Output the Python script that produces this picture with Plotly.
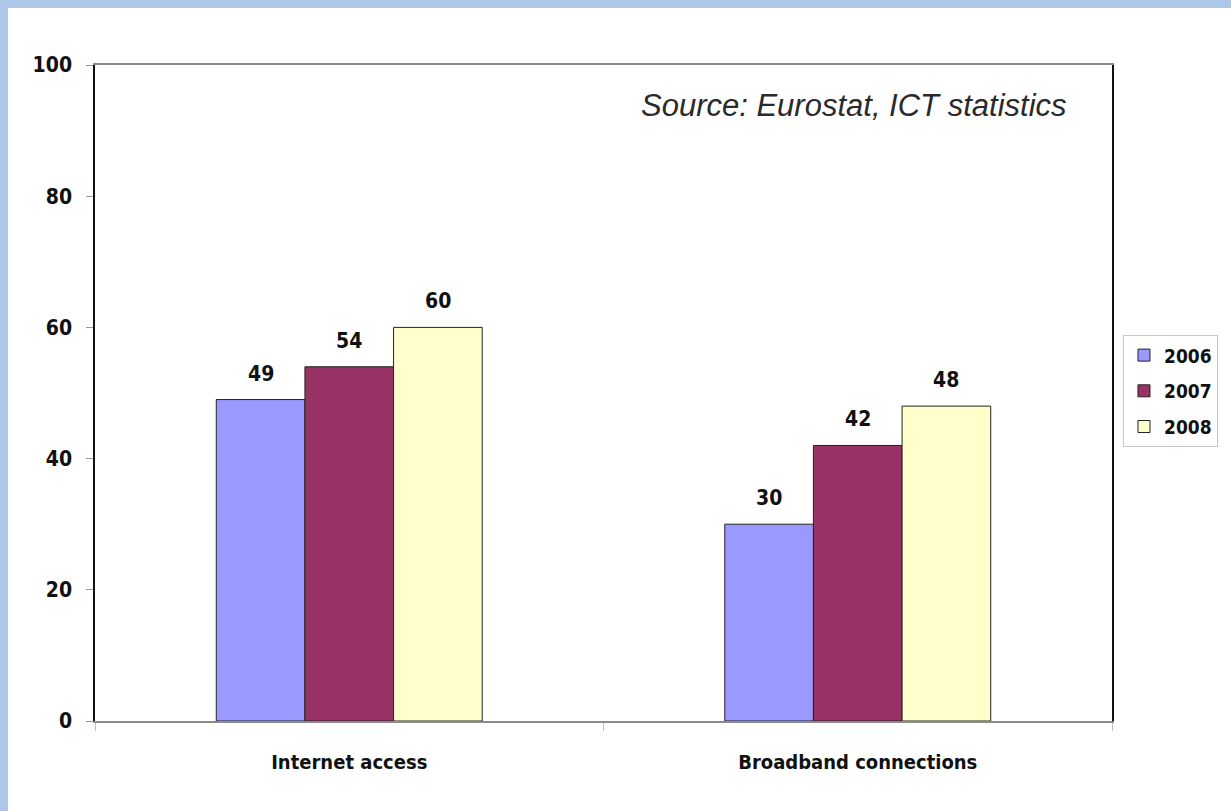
import plotly.graph_objects as go

categorias = ["Internet access", "Broadband connections"]
anos = ["2006", "2007", "2008"]
valores = {
    "2006": [49, 30],
    "2007": [54, 42],
    "2008": [60, 48],
}
cores = {"2006": "#9999ff", "2007": "#993366", "2008": "#ffffcc"}
fonte = "Source: Eurostat, ICT statistics"

NARROW = "Liberation Sans Narrow, Arial Narrow, DejaVu Sans Condensed, sans-serif"
BARGAP = 0.477
TAM = 21

fig = go.Figure()

for ano in anos:
    fig.add_trace(go.Bar(
        x=categorias, y=valores[ano], name=ano, legendgroup=ano,
        marker=dict(color=cores[ano], line=dict(color="#222222", width=1)),
    ))

# rotulos de valor acima das barras
largura = (1 - BARGAP) / len(anos)
anotacoes = []
for j, ano in enumerate(anos):
    for i, v in enumerate(valores[ano]):
        anotacoes.append(dict(
            x=i + (j - (len(anos) - 1) / 2) * largura, y=v, xref="x", yref="y",
            text=str(v), showarrow=False, yanchor="bottom", yshift=12,
            font=dict(family=NARROW, size=TAM, color="#111111", weight="bold"),
        ))

anotacoes.append(dict(
    x=0.9577, y=0.939, xref="paper", yref="paper", text=fonte,
    showarrow=False, xanchor="right", yanchor="middle",
    font=dict(family="Liberation Sans, Arial, sans-serif", size=31,
              color="#2a2a2a", style="italic"),
))

fig.update_layout(
    width=1231, height=811,
    margin=dict(l=95, r=119, t=65, b=90, autoexpand=False),
    paper_bgcolor="#aec7e8",
    plot_bgcolor="white",
    barmode="group", bargap=BARGAP, bargroupgap=0,
    showlegend=True,
    legend=dict(
        x=1.0108, y=0.588, xanchor="left", yanchor="top",
        traceorder="grouped", tracegroupgap=8,
        bgcolor="white", bordercolor="#c8c8c8", borderwidth=1,
        font=dict(family=NARROW, size=19, color="#111111", weight="bold"),
    ),
    annotations=anotacoes,
    shapes=[dict(
        type="rect", xref="paper", yref="paper", layer="below",
        x0=-0.0855, x1=1.2, y0=-0.2, y1=1.0869,
        fillcolor="white", line=dict(width=0),
    )],
)

fig.update_xaxes(
    showline=True, linecolor="#8a8a8a", linewidth=2, mirror=True,
    ticks="outside", tickson="boundaries", ticklen=8, tickcolor="#c0c0c0",
    ticklabelstandoff=22,
    tickfont=dict(family=NARROW, size=20, color="#111111", weight="bold"),
)
fig.update_yaxes(
    range=[0, 100], dtick=20, showgrid=False, zeroline=False,
    showline=True, linecolor="#111111", linewidth=1.5, mirror=True,
    ticks="outside", ticklen=7, tickcolor="#9a9a9a",
    ticklabelstandoff=10,
    tickfont=dict(family=NARROW, size=TAM, color="#111111", weight="bold"),
)

# tira a margem padrao do body para a figura ocupar a janela inteira
fig.write_html("out.html", config={"displayModeBar": False},
               post_script="document.body.style.margin='0';")
